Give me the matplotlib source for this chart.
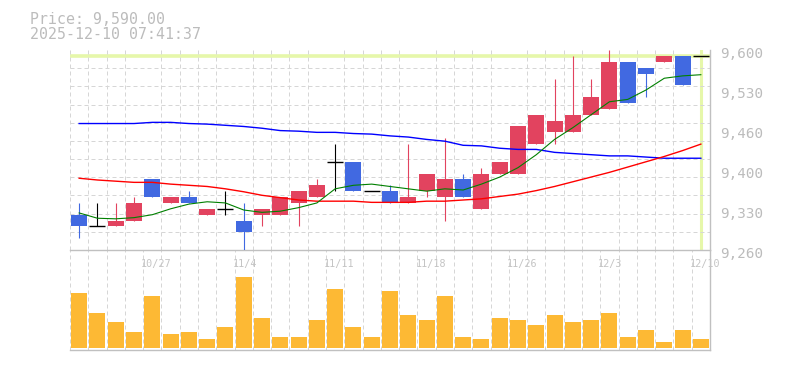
import matplotlib.pyplot as plt
from matplotlib.transforms import ScaledTranslation
import numpy as np

# daily OHLC, 35 sessions up to 12/10
opens = [9320, 9300, 9300, 9310, 9380, 9340, 9350, 9320, 9330, 9310, 9320, 9320,
         9340, 9350, 9410, 9410, 9360, 9360, 9340, 9360, 9350, 9380, 9330, 9390,
         9390, 9440, 9460, 9460, 9490, 9500, 9580, 9570, 9580, 9590, 9590]
highs = [9340, 9340, 9340, 9350, 9380, 9350, 9360, 9330, 9360, 9340, 9330, 9350,
         9360, 9380, 9440, 9410, 9360, 9370, 9440, 9390, 9450, 9390, 9400, 9410,
         9470, 9490, 9550, 9590, 9550, 9600, 9580, 9570, 9590, 9590, 9590]
lows = [9280, 9300, 9300, 9310, 9350, 9340, 9340, 9320, 9320, 9260, 9300, 9320,
        9300, 9350, 9360, 9360, 9360, 9340, 9340, 9350, 9310, 9350, 9330, 9390,
        9390, 9440, 9440, 9460, 9490, 9500, 9510, 9520, 9580, 9540, 9590]
closes = [9300, 9300, 9310, 9340, 9350, 9350, 9340, 9330, 9330, 9290, 9330, 9350,
          9360, 9370, 9410, 9360, 9360, 9340, 9350, 9390, 9380, 9350, 9390, 9410,
          9470, 9490, 9480, 9490, 9520, 9580, 9510, 9560, 9590, 9540, 9590]
volumes = [16600, 10600, 7900, 4900, 15700, 4300, 4900, 2800, 6400, 21400, 9100, 3400,
           3400, 8500, 17800, 6400, 3400, 17200, 10000, 8500, 15700, 3400, 2800, 9100,
           8500, 7000, 10000, 7900, 8500, 10600, 3400, 5500, 1900, 5500, 2800]

# moving averages (5 / 25 / 75 days)
ma5 = [9323, 9314, 9313, 9315, 9320, 9330, 9338, 9342, 9340, 9328, 9324, 9326,
       9332, 9340, 9364, 9370, 9372, 9368, 9364, 9360, 9364, 9362, 9372, 9384,
       9400, 9422, 9448, 9468, 9490, 9512, 9516, 9532, 9552, 9556, 9558]
ma25 = [9382, 9379, 9377, 9375, 9375, 9372, 9370, 9368, 9364, 9359, 9353, 9349,
        9345, 9343, 9343, 9343, 9341, 9341, 9341, 9343, 9343, 9345, 9347, 9351,
        9355, 9361, 9368, 9376, 9384, 9392, 9401, 9410, 9419, 9429, 9440]
ma75 = [9475, 9475, 9475, 9475, 9477, 9477, 9475, 9474, 9472, 9470, 9467, 9463,
        9462, 9460, 9460, 9458, 9457, 9454, 9452, 9448, 9445, 9438, 9437, 9433,
        9431, 9431, 9426, 9424, 9422, 9420, 9420, 9418, 9416, 9416, 9416]

date_idx = [4, 9, 14, 19, 24, 29, 34]
date_labels = ['10/27', '11/4', '11/11', '11/18', '11/26', '12/3', '12/10']
price_ticks = [9260, 9328, 9396, 9464, 9532, 9600]
price_labels = ['9,260', '9,330', '9,400', '9,460', '9,530', '9,600']
last_price = 9590

UP = '#e2435f'
DOWN = '#4169e1'
VOLC = '#fdb934'
GRID = '#d6d6d6'
EDGE = '#c0c0c0'
TXT = '#bcbcbc'
LIME = '#e6f7aa'
FONT = 'DejaVu Sans Mono'

W, H = 785, 370
fig = plt.figure(figsize=(W / 100, H / 100), dpi=100)
axv = fig.add_axes([70 / W, 20 / H, 640 / W, 100 / H])
ax = fig.add_axes([70 / W, 120 / H, 640 / W, 200 / H])
ax.set_zorder(2)
axv.set_zorder(1)

n = len(closes)
x = np.arange(n)
o = np.array(opens)
c = np.array(closes)
colors = np.where(c > o, UP, np.where(c < o, DOWN, 'black'))
bw = 0.87
dash = (0, (4, 3))

# current price marker
ax.axhline(last_price, color=LIME, lw=2.6, zorder=1)
ax.axvline(x[-1], color=LIME, lw=2.2, zorder=1)

# candles
ax.vlines(x, lows, highs, colors=colors, lw=0.8, zorder=3)
body = c != o
ax.bar(x[body], np.abs(c - o)[body], bottom=np.minimum(c, o)[body], width=bw,
       color=colors[body], zorder=4)
ax.hlines(c[~body], x[~body] - bw / 2, x[~body] + bw / 2, colors='black', lw=1.0, zorder=4)

ax.plot(x, ma75, color='#0000ff', lw=1.0, zorder=5)
ax.plot(x, ma25, color='#ff0000', lw=1.0, zorder=5)
ax.plot(x, ma5, color='#008000', lw=0.8, zorder=5)

ax.set_xlim(-0.5, n - 0.5)
ax.set_ylim(9260, 9600)
ax.set_yticks(np.linspace(9260, 9600, 12), minor=True)
ax.set_xticks(np.arange(n + 1) - 0.5, minor=True)
ax.grid(which='minor', color=GRID, lw=0.72, linestyle=dash)
ax.tick_params(which='both', length=0)

ax.yaxis.tick_right()
ax.set_yticks(price_ticks)
ax.set_yticklabels(price_labels, fontsize=10.3, color=TXT, family=FONT, va='top')
ax.tick_params(axis='y', pad=7.2)
for lab in ax.get_yticklabels():
    lab.set_transform(lab.get_transform() + ScaledTranslation(0, 2.4 / 72, fig.dpi_scale_trans))

ax.set_xticks(np.array(date_idx) - 0.5)
ax.set_xticklabels(date_labels, fontsize=7.3, color='#c4c4c4', family=FONT, ha='left')
ax.tick_params(axis='x', pad=6.3)
for lab in ax.get_xticklabels():
    lab.set_transform(lab.get_transform() + ScaledTranslation(-1.5 / 72, 0, fig.dpi_scale_trans))

for s in ['left', 'top']:
    ax.spines[s].set_visible(False)
for s in ['bottom', 'right']:
    ax.spines[s].set_color(EDGE)
    ax.spines[s].set_linewidth(1.0)

# volume
axv.bar(x, volumes, width=bw, color=VOLC, zorder=3)
axv.set_xlim(-0.5, n - 0.5)
axv.set_ylim(-600, 29400)
axv.set_xticks(np.arange(n + 1) - 0.5, minor=True)
axv.set_xticks([])
axv.set_yticks([])
axv.grid(which='minor', axis='x', color=GRID, lw=0.72, linestyle=dash)
axv.tick_params(which='both', length=0)
for s in ['left', 'top']:
    axv.spines[s].set_visible(False)
for s in ['bottom', 'right']:
    axv.spines[s].set_color(EDGE)
    axv.spines[s].set_linewidth(1.0)

fig.text(30 / W, 1 - 19.5 / H, 'Price: 9,590.00', fontsize=10.7, color=TXT,
         family=FONT, va='center')
fig.text(30 / W, 1 - 34.5 / H, '2025-12-10 07:41:37', fontsize=10.7, color=TXT,
         family=FONT, va='center')

fig.savefig('out.png', dpi=100)
